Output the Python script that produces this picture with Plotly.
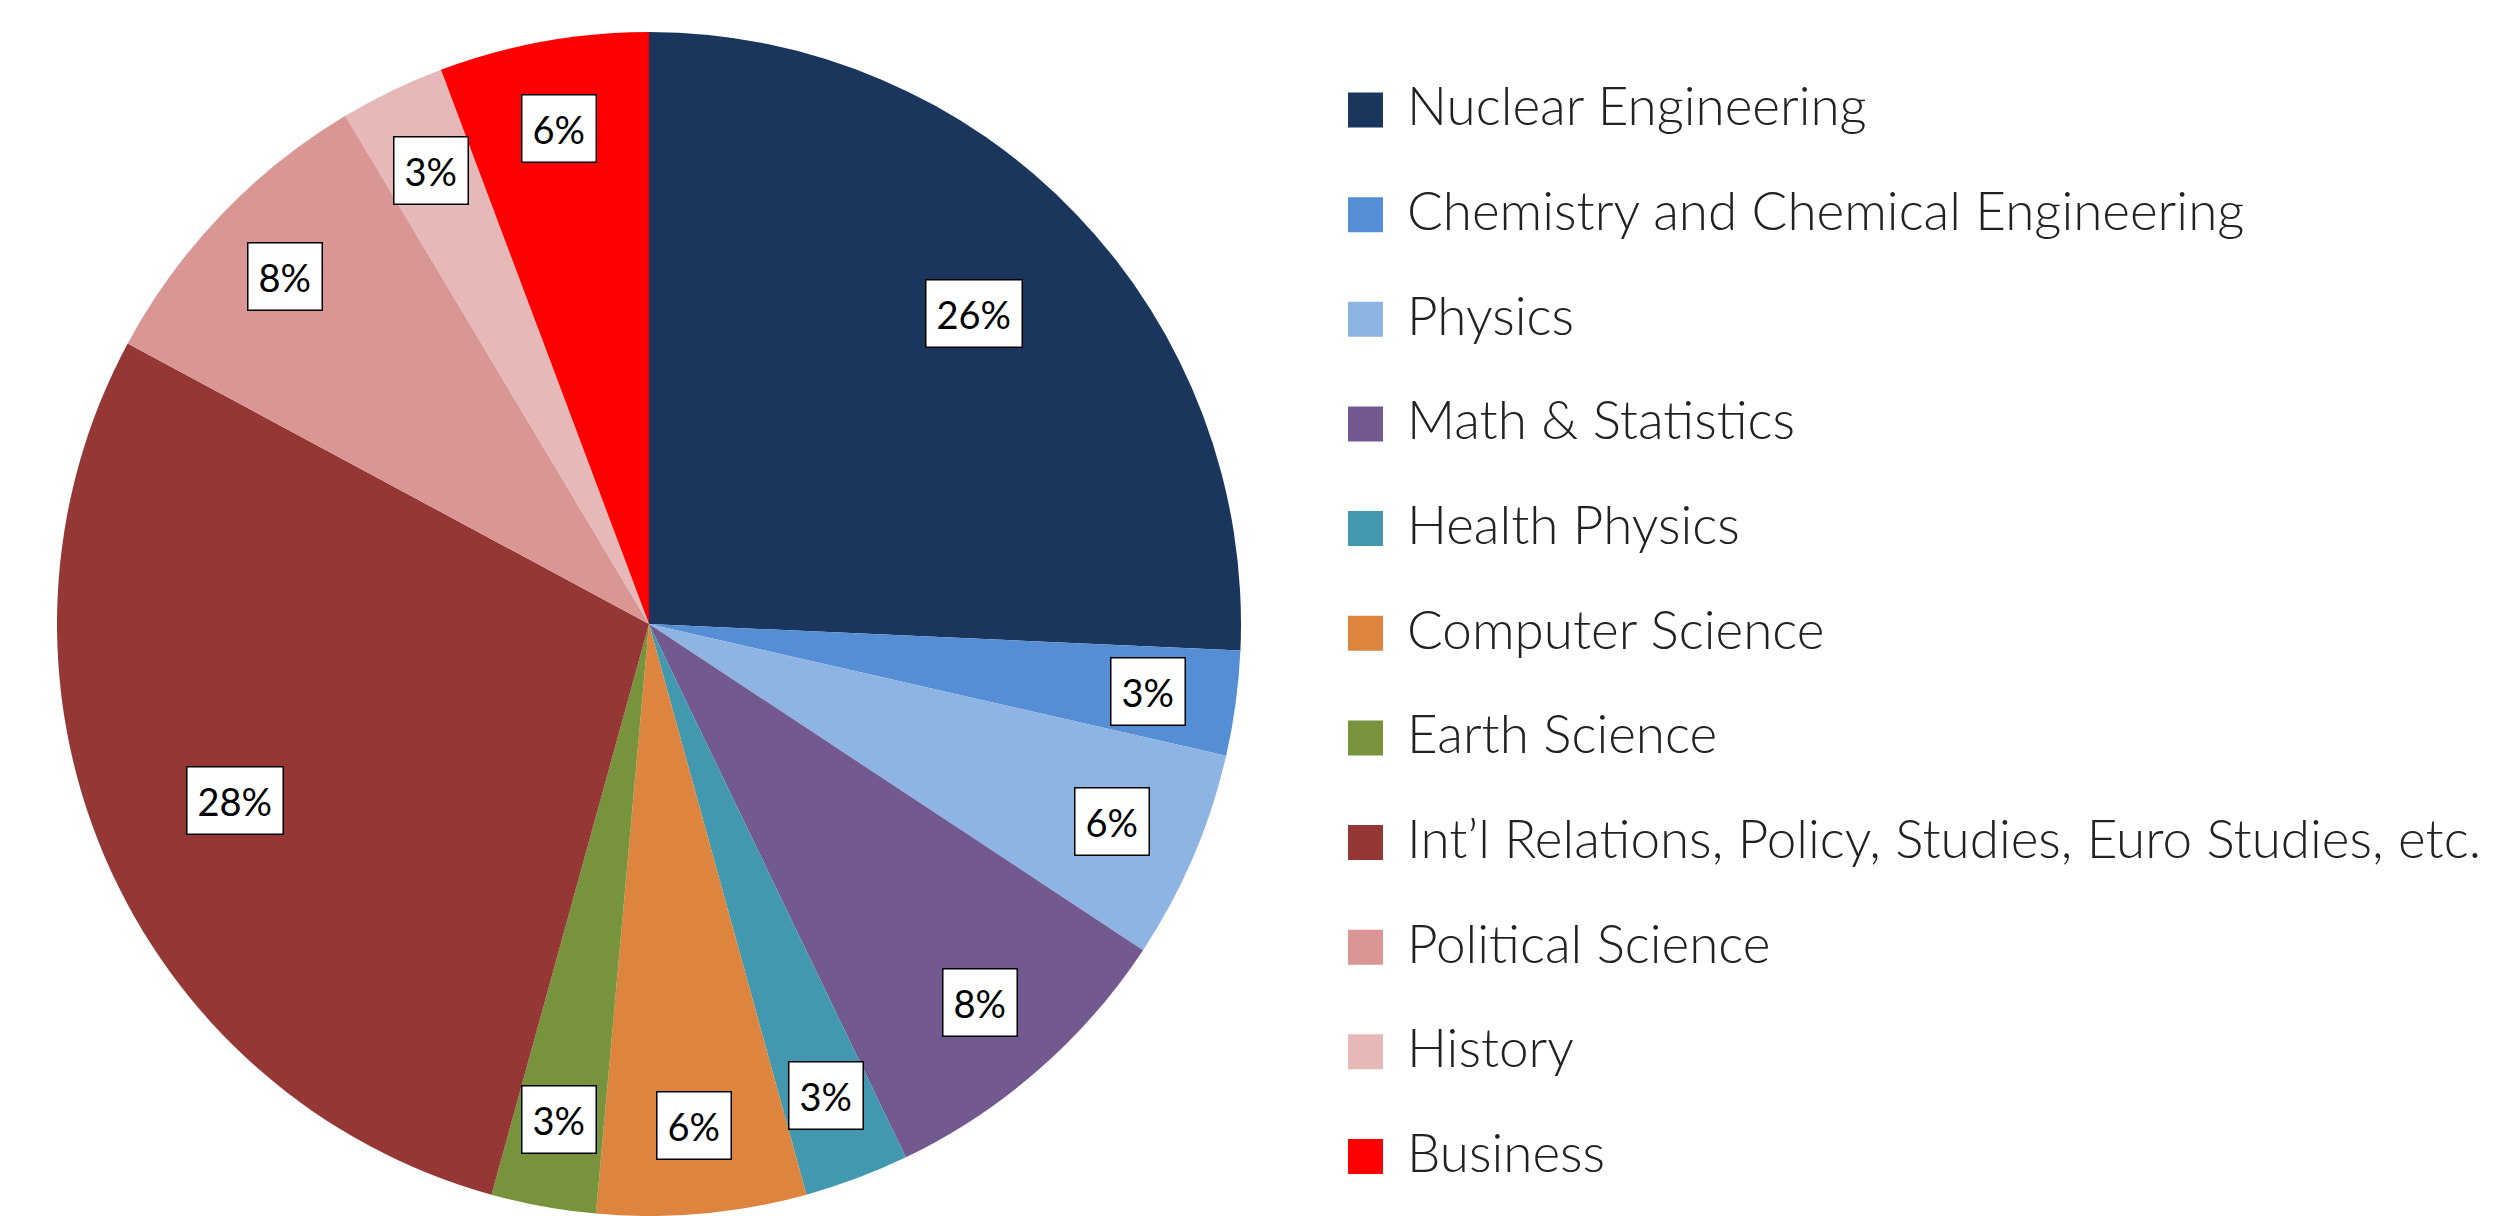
import math
import plotly.graph_objects as go

# ---- data ----
categories = [
    "Nuclear Engineering",
    "Chemistry and Chemical Engineering",
    "Physics",
    "Math & Statistics",
    "Health Physics",
    "Computer Science",
    "Earth Science",
    "Int\u2019l Relations, Policy, Studies, Euro Studies, etc.",
    "Political Science",
    "History",
    "Business",
]
# slice sizes (counts out of 35)
counts = [9, 1, 2, 3, 1, 2, 1, 10, 3, 1, 2]
# the percentage labels as printed on the chart
pct_labels = ["26%", "3%", "6%", "8%", "3%", "6%", "3%", "28%", "8%", "3%", "6%"]
colors = [
    "#1B365D", "#558ED5", "#8EB4E3", "#72598F", "#4198AF", "#DD843E",
    "#77933C", "#953735", "#D99694", "#E6B9B8", "#FF0000",
]

# ---- layout constants (page offset of 8px from the default body margin) ----
OFF = 8
W, H = 2497 - OFF, 1216 - OFF
pie_top = 24                      # in figure pixels
pie_r = (H - pie_top) / 2
pie_cx = 649 - OFF
pie_cy = pie_top + pie_r
dom_x = [(pie_cx - pie_r) / W, (pie_cx + pie_r) / W]
dom_y = [0.0, (H - pie_top) / H]

fig = go.Figure()
fig.add_trace(go.Pie(
    labels=categories,
    values=counts,
    sort=False,
    direction="clockwise",
    rotation=0,
    marker=dict(colors=colors, line=dict(width=0)),
    textinfo="none",
    hovertemplate="%{label}<br>%{percent}<extra></extra>",
    domain=dict(x=dom_x, y=dom_y),
    showlegend=False,
))

annotations = []
shapes = []

# boxed percentage labels placed at each slice's mid-angle
total = sum(counts)
cum = 0
for v, txt in zip(counts, pct_labels):
    mid = (cum + v / 2) / total * 2 * math.pi
    cum += v
    frac = 0.76 if v / total > 0.2 else 0.85
    px = pie_cx + frac * pie_r * math.sin(mid)
    py = pie_cy - frac * pie_r * math.cos(mid)
    annotations.append(dict(
        x=px / W, y=1 - py / H, xref="paper", yref="paper",
        text=txt, showarrow=False, xanchor="center", yanchor="middle",
        font=dict(family="Lato, Carlito, sans-serif", size=38, color="black"),
        bgcolor="white", bordercolor="black", borderwidth=1.5, borderpad=10,
    ))

# legend (square swatch + label) on the right
leg_x0, sw = 1348 - OFF, 35
leg_y0, leg_dy = 110 - OFF, 104.65
text_x = 1405 - OFF
for i, (name, col) in enumerate(zip(categories, colors)):
    yc = leg_y0 + i * leg_dy
    shapes.append(dict(
        type="rect", xref="paper", yref="paper",
        x0=leg_x0 / W, x1=(leg_x0 + sw) / W,
        y0=1 - (yc + sw / 2) / H, y1=1 - (yc - sw / 2) / H,
        fillcolor=col, line=dict(width=0),
    ))
    annotations.append(dict(
        x=text_x / W, y=1 - (yc - 5) / H, xref="paper", yref="paper",
        text=name, showarrow=False, xanchor="left", yanchor="middle",
        font=dict(family="Lato, sans-serif", size=53, color="#222222", weight=300),
    ))

fig.update_layout(
    width=W, height=H,
    margin=dict(l=0, r=0, t=0, b=0),
    paper_bgcolor="white",
    plot_bgcolor="white",
    showlegend=False,
    annotations=annotations,
    shapes=shapes,
)

fig.write_html("out.html")
